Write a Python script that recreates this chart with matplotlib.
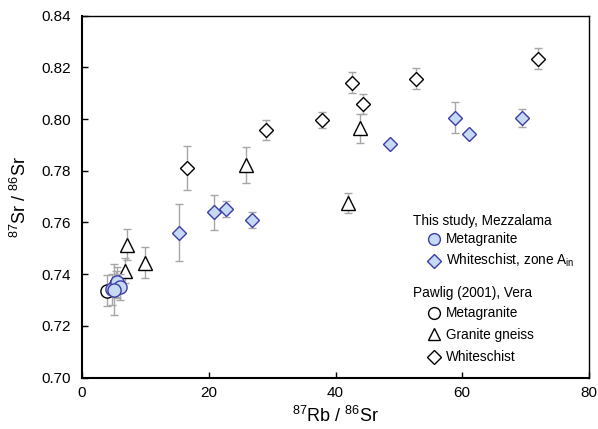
import matplotlib
matplotlib.use("Agg")
import matplotlib.pyplot as plt
import numpy as np

plt.rcParams['font.family'] = ['Liberation Sans', 'DejaVu Sans']
plt.rcParams['mathtext.default'] = 'regular'

# This study, Mezzalama - metagranite
mg_x = [4.8, 5.6, 6.0, 5.1]
mg_y = [0.7342, 0.7368, 0.7350, 0.7340]
mg_err = [0.006, 0.006, 0.005, 0.0098]

# This study, Mezzalama - whiteschist zone A_in
ws_x = [15.3, 20.9, 22.7, 26.9, 48.6, 58.8, 61.0, 69.4]
ws_y = [0.7561, 0.7639, 0.7652, 0.7610, 0.7903, 0.8005, 0.7944, 0.8003]
ws_err = [0.011, 0.0068, 0.003, 0.003, 0.0, 0.006, 0.0, 0.0035]

# Pawlig (2001), Vera - metagranite
pm_x = [4.0, 5.4]
pm_y = [0.7335, 0.7362]
pm_err = [0.006, 0.005]

# Pawlig (2001), Vera - granite gneiss
gg_x = [6.85, 7.15, 10.0, 25.8, 41.9, 43.8]
gg_y = [0.7414, 0.7513, 0.7445, 0.7822, 0.7675, 0.7964]
gg_err = [0.005, 0.006, 0.006, 0.0068, 0.0037, 0.0055]

# Pawlig (2001), Vera - whiteschist
pw_x = [16.6, 29.0, 37.9, 42.6, 44.4, 52.7, 71.9]
pw_y = [0.7810, 0.7958, 0.7996, 0.8140, 0.8058, 0.8156, 0.8233]
pw_err = [0.0085, 0.004, 0.003, 0.004, 0.004, 0.004, 0.004]

blue_fill = '#c6daf4'
blue_edge = '#3c3ca8'
err_col = '#a6a6a6'

fig = plt.figure(figsize=(5.98, 4.29), dpi=100)
ax = fig.add_axes([82/598, 1-377.6/429, 507/598, 362/429])

ebkw = dict(ls='none', ecolor=err_col, elinewidth=1, capsize=3, capthick=1)

ax.errorbar(pm_x, pm_y, yerr=pm_err, marker='o', ms=9.5, mfc='white', mec='black', mew=1, zorder=3, **ebkw)
ax.errorbar(gg_x, gg_y, yerr=gg_err, marker='^', ms=10, mfc='white', mec='black', mew=1, zorder=3, **ebkw)
ax.errorbar(pw_x, pw_y, yerr=pw_err, marker='D', ms=7.5, mfc='white', mec='black', mew=1, zorder=3, **ebkw)
ax.errorbar(mg_x, mg_y, yerr=mg_err, marker='o', ms=9.5, mfc=blue_fill, mec=blue_edge, mew=1, zorder=4, **ebkw)
ax.errorbar(ws_x, ws_y, yerr=ws_err, marker='D', ms=7.5, mfc=blue_fill, mec=blue_edge, mew=1, zorder=4, **ebkw)

ax.set_xlim(0, 80)
ax.set_ylim(0.70, 0.84)
ax.set_xticks([0, 20, 40, 60, 80])
ax.set_yticks(np.arange(0.70, 0.841, 0.02))
ax.set_yticklabels([f"{v:.2f}" for v in np.arange(0.70, 0.841, 0.02)])
ax.tick_params(direction='in', length=4, width=1, labelsize=11, pad=8)
ax.tick_params(axis='x', pad=6)
for side in ['left', 'bottom']:
    ax.spines[side].set_linewidth(1.5)
for side in ['top', 'right']:
    ax.spines[side].set_linewidth(1.0)

ax.set_xlabel('$^{87}$Rb / $^{86}$Sr', fontsize=13, labelpad=4)
ax.set_ylabel('$^{87}$Sr / $^{86}$Sr', fontsize=13, labelpad=8)

# legend drawn manually
fs = 9.8
tx = ax.transAxes
hx, mx, lx = 0.6535, 0.6949, 0.7174
ax.text(hx, 0.4334, 'This study, Mezzalama', transform=tx, fontsize=fs, va='center')
ax.plot(mx, 0.3829, 'o', ms=8.5, mfc=blue_fill, mec=blue_edge, mew=1, transform=tx, clip_on=False)
ax.text(lx, 0.3829, 'Metagranite', transform=tx, fontsize=fs, va='center')
ax.plot(mx, 0.3229, 'D', ms=7.5, mfc=blue_fill, mec=blue_edge, mew=1, transform=tx, clip_on=False)
ax.text(lx, 0.3229, 'Whiteschist, zone A$_{in}$', transform=tx, fontsize=fs, va='center')
ax.text(hx, 0.2329, 'Pawlig (2001), Vera', transform=tx, fontsize=fs, va='center')
ax.plot(mx, 0.1776, 'o', ms=8.5, mfc='white', mec='black', mew=1, transform=tx, clip_on=False)
ax.text(lx, 0.1776, 'Metagranite', transform=tx, fontsize=fs, va='center')
ax.plot(mx, 0.1200, '^', ms=9, mfc='white', mec='black', mew=1, transform=tx, clip_on=False)
ax.text(lx, 0.1177, 'Granite gneiss', transform=tx, fontsize=fs, va='center')
ax.plot(mx, 0.0577, 'D', ms=7.5, mfc='white', mec='black', mew=1, transform=tx, clip_on=False)
ax.text(lx, 0.0577, 'Whiteschist', transform=tx, fontsize=fs, va='center')

fig.savefig('out.png', dpi=100)
